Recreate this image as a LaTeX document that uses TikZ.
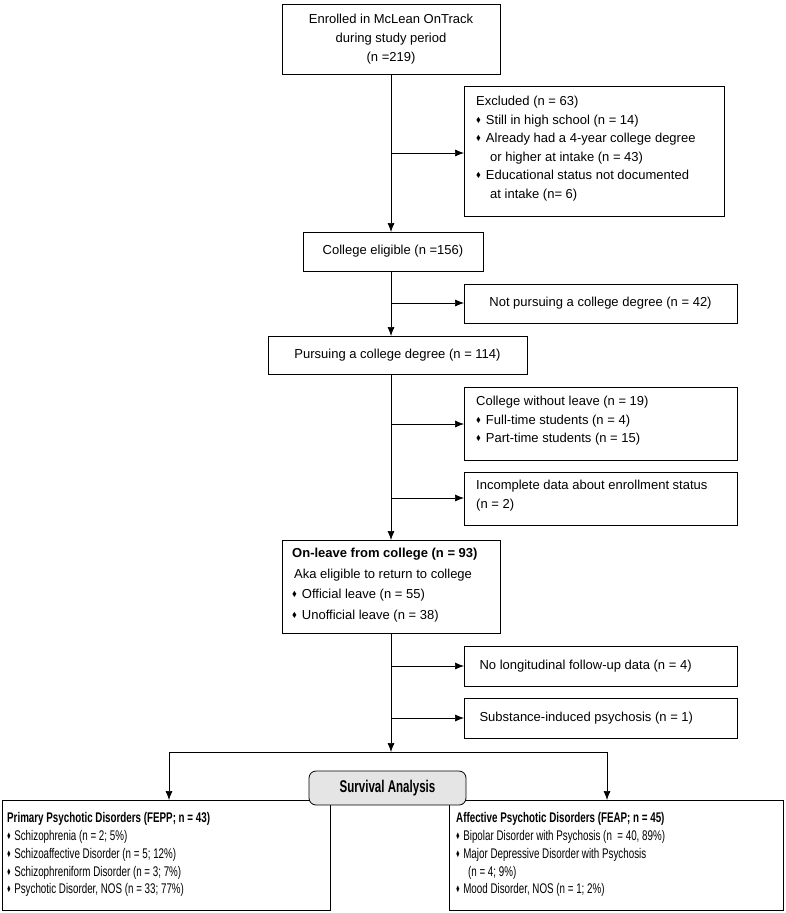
\documentclass[tikz,border=0pt]{standalone}
\usepackage{amssymb}
\usepackage{graphicx}
\usepackage{fontspec}
\setmainfont{Liberation Sans}
\usetikzlibrary{arrows.meta}
\begin{document}
\begin{tikzpicture}[x=1pt,y=-1pt,
 box/.style={draw,line width=0.8pt,rectangle,inner sep=0pt},
 arr/.style={-{Latex[length=9pt,width=7pt]},line width=0.7pt},
 txt/.style={font=\fontsize{13}{18.5}\selectfont,align=left,anchor=north west,inner sep=0pt}]
\useasboundingbox (0,0) rectangle (785,913);
\newcommand{\bl}{\raisebox{2pt}{\scalebox{0.55}{$\blacklozenge$}}\hspace{5pt}}
\newcommand{\cond}[1]{\scalebox{0.7}[1]{\fontsize{14}{17.8}\selectfont\begin{tabular}{@{}l@{}}#1\end{tabular}}}
% boxes
\draw[box] (282,4) rectangle (500,74);
\node[font=\fontsize{13}{19}\selectfont,align=center] (b1) at (391,39) {Enrolled in McLean OnTrack\\during study period\\(n =219)};
\draw[box] (464,86) rectangle (724,216);
\node[txt] (ex) at (476,96) {Excluded (n = 63)\\\bl Still in high school (n = 14)\\\bl Already had a 4-year college degree\\\hspace{14pt}or higher at intake (n = 43)\\\bl Educational status not documented\\\hspace{14pt}at intake (n= 6)};
\draw[box] (303,232) rectangle (483,271);
\node[font=\fontsize{13}{14}\selectfont] (ce) at (393,251.5) {College eligible (n =156)};
\draw[box] (464,284) rectangle (737,323);
\node[font=\fontsize{13}{14}\selectfont] (np) at (600.5,303.5) {Not pursuing a college degree (n = 42)};
\draw[box] (268,336) rectangle (527,374);
\node[font=\fontsize{13}{14}\selectfont] (pu) at (397.5,355) {Pursuing a college degree (n = 114)};
\draw[box] (464,387) rectangle (737,460);
\node[txt] (cw) at (476,396) {College without leave (n = 19)\\\bl Full-time students (n = 4)\\\bl Part-time students (n = 15)};
\draw[box] (464,472) rectangle (737,525);
\node[txt] (ic) at (476,480) {Incomplete data about enrollment status\\(n = 2)};
\draw[box] (282,540) rectangle (500,633);
\node[txt,font=\fontsize{13}{20.5}\selectfont] (ol) at (292,548) {\textbf{On-leave from college (n = 93)}\\\hspace{2pt}Aka eligible to return to college\\\bl Official leave (n = 55)\\\bl Unofficial leave (n = 38)};
\draw[box] (464,646) rectangle (737,686);
\node[font=\fontsize{13}{14}\selectfont,anchor=west] (nl) at (476,666) {No longitudinal follow-up data (n = 4)};
\draw[box] (464,698) rectangle (737,738);
\node[font=\fontsize{13}{14}\selectfont,anchor=west] (si) at (476,718) {Substance-induced psychosis (n = 1)};
\draw[box] (2,800) rectangle (330,910);
\node[anchor=north west,inner sep=0pt] (pp) at (7,810) {\cond{\textbf{Primary Psychotic Disorders (FEPP; n = 43)}\\\bl Schizophrenia (n = 2; 5\%)\\\bl Schizoaffective Disorder (n = 5; 12\%)\\\bl Schizophreniform Disorder (n = 3; 7\%)\\\bl Psychotic Disorder, NOS (n = 33; 77\%)}};
\draw[box] (449,800) rectangle (783,910);
\node[anchor=north west,inner sep=0pt] (ap) at (456,810) {\cond{\textbf{Affective Psychotic Disorders (FEAP; n = 45)}\\\bl Bipolar Disorder with Psychosis (n\ \ = 40, 89\%)\\\bl Major Depressive Disorder with Psychosis\\\hspace{17pt}(n = 4; 9\%)\\\bl Mood Disorder, NOS (n = 1; 2\%)}};
\draw[line width=0.8pt,rounded corners=7pt,fill=gray!20] (309,771) rectangle (466,805);
\node (sa) at (387.5,788) {\scalebox{0.68}[1]{\fontsize{17}{18}\selectfont\bfseries Survival Analysis}};
% connectors
\draw[arr] (391,74) -- (391,232);
\draw[arr] (391,153) -- (464,153);
\draw[arr] (391,271) -- (391,336);
\draw[arr] (391,303) -- (464,303);
\draw[arr] (391,374) -- (391,540);
\draw[arr] (391,424) -- (464,424);
\draw[arr] (391,498) -- (464,498);
\draw[arr] (391,633) -- (391,752);
\draw[arr] (391,666) -- (464,666);
\draw[arr] (391,718) -- (464,718);
\draw[arr] (169,752) -- (169,800);
\draw[line width=0.7pt] (169,752) -- (607,752);
\draw[arr] (607,752) -- (607,800);
\end{tikzpicture}
\end{document}
